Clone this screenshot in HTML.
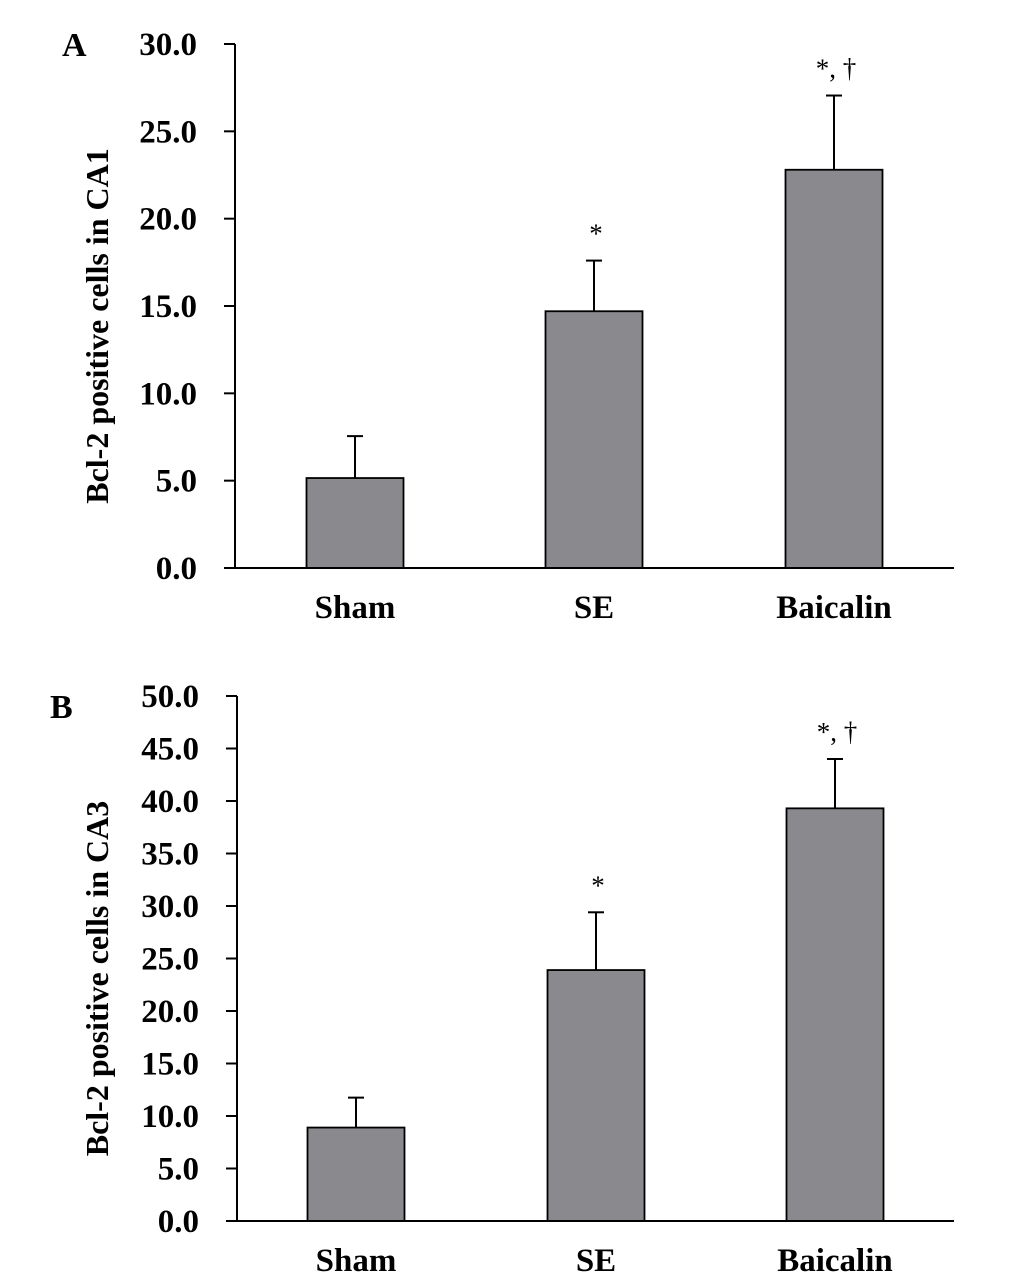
<!DOCTYPE html>
<html><head><meta charset="utf-8"><style>
body{margin:0;background:#fff;width:1033px;height:1281px;overflow:hidden}
svg{display:block;font-family:"Liberation Serif",serif}
</style></head><body>
<svg id="chart" width="1033" height="1281" viewBox="0 0 1033 1281"></svg>
<script>
const categories=["Sham","SE","Baicalin"];
const valuesA=[5.15,14.7,22.8];
const errorsA=[2.4,2.9,4.25];
const marksA=["","*","*, †"];
const ticksA=["0.0","5.0","10.0","15.0","20.0","25.0","30.0"];
const valuesB=[8.9,23.9,39.3];
const errorsB=[2.85,5.5,4.7];
const marksB=["","*","*, †"];
const ticksB=["0.0","5.0","10.0","15.0","20.0","25.0","30.0","35.0","40.0","45.0","50.0"];
const NS="http://www.w3.org/2000/svg";
const svg=document.getElementById('chart');
function mk(tag,attrs,parent,text){const e=document.createElementNS(NS,tag);for(const k in attrs)e.setAttribute(k,attrs[k]);if(text!==undefined)e.textContent=text;parent.appendChild(e);return e;}
function panel(cfg){
  const g=mk('g',{},svg);
  
  
  const maxV=parseFloat(cfg.ticks[cfg.ticks.length-1]);
  const y=v=>cfg.y0-(v/maxV)*(cfg.y0-cfg.yTop);
  const bw=97;
  const x=i=>cfg.centers[i];
  const L=mk('text',{x:cfg.letterX,y:cfg.letterY,'font-size':34,'font-weight':'bold'},g,cfg.letter);
  
  
  cfg.ticks.forEach(t=>{
    const v=parseFloat(t),ty=y(v);
    const tk=mk('line',{x1:cfg.ax-11,x2:cfg.ax,y1:ty,y2:ty,stroke:'#000','stroke-width':2},g);
    
    
    const tl=mk('text',{x:cfg.ax-38,y:ty+11,'font-size':33,'font-weight':'bold','text-anchor':'end'},g,t);
    
    
  });
  const ya=mk('line',{x1:cfg.ax,x2:cfg.ax,y1:cfg.yTop,y2:cfg.y0,stroke:'#000','stroke-width':2},g);
  
  
  cfg.values.forEach((v,i)=>{
    const et=y(v+cfg.errors[i]);
    const el=mk('line',{x1:x(i),x2:x(i),y1:et,y2:y(v),stroke:'#000','stroke-width':2},g);
    
    
    const ec=mk('line',{x1:x(i)-8,x2:x(i)+8,y1:et,y2:et,stroke:'#000','stroke-width':2},g);
    
    
    const b=mk('rect',{x:x(i)-bw/2,y:y(v),width:bw,height:cfg.y0-y(v),fill:'#8a898e',stroke:'#000','stroke-width':1.8},g);
    
    
    if(cfg.marks[i]){
      const m=mk('text',{x:x(i)+2,y:et-18,'font-size':27,'text-anchor':'middle'},g,cfg.marks[i]);
      
      
    }
    const cl=mk('text',{x:x(i),y:cfg.y0+50,'font-size':33,'font-weight':'bold','text-anchor':'middle'},g,categories[i]);
    
    
  });
  const xa=mk('line',{x1:cfg.ax,x2:954,y1:cfg.y0,y2:cfg.y0,stroke:'#000','stroke-width':2},g);
  
  
  const cy=(cfg.yTop+cfg.y0)/2+20;
  const t=mk('text',{x:0,y:0,'font-size':32,'font-weight':'bold','text-anchor':'middle',transform:`translate(108,${cy}) rotate(-90)`},g,cfg.title);
  
  
}
panel({letter:'A',letterX:62,letterY:56,ax:235,yTop:44,y0:568,centers:[355,594,834],ticks:ticksA,values:valuesA,errors:errorsA,marks:marksA,title:'Bcl-2 positive cells in CA1'});
panel({letter:'B',letterX:50,letterY:718,ax:237,yTop:696,y0:1221,centers:[356,596,835],ticks:ticksB,values:valuesB,errors:errorsB,marks:marksB,title:'Bcl-2 positive cells in CA3'});
</script>
</body></html>
